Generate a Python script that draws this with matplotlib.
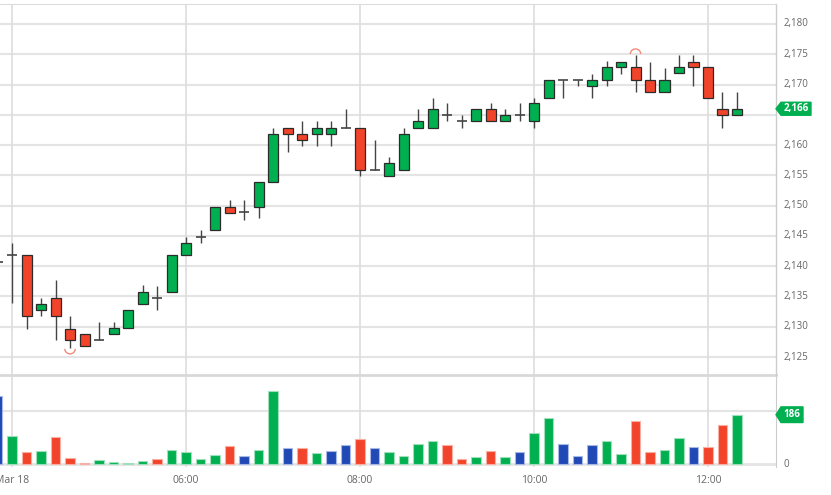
import matplotlib
matplotlib.use("Agg")
import matplotlib.pyplot as plt
from matplotlib.patches import Polygon, Arc
from matplotlib.transforms import blended_transform_factory
import numpy as np
import pandas as pd

plt.rcParams["font.family"] = ["Open Sans", "DejaVu Sans"]

# 10-minute candles, Mar 18, 03:50 .. 12:20
times = pd.date_range("2024-03-18 03:50", periods=52, freq="10min")

opens = [2140.7, 2141.8, 2141.8, 2132.8, 2134.8, 2129.7, 2128.8, 2127.8, 2128.8, 2129.8,
         2133.8, 2134.8, 2135.8, 2141.8, 2144.8, 2145.9, 2149.8, 2148.9, 2149.8, 2153.9,
         2162.9, 2161.9, 2161.9, 2161.9, 2162.9, 2162.9, 2155.9, 2154.9, 2155.9, 2162.9,
         2162.9, 2165.0, 2164.0, 2163.9, 2166.0, 2163.9, 2165.0, 2164.0, 2167.7, 2170.8,
         2170.8, 2169.8, 2170.8, 2172.85, 2172.85, 2170.8, 2168.8, 2171.85, 2173.8, 2172.85,
         2166.0, 2164.9]
highs = [2141.2, 2143.9, 2141.8, 2134.8, 2137.8, 2131.8, 2128.8, 2130.8, 2130.8, 2132.8,
         2136.9, 2136.8, 2141.8, 2144.9, 2145.9, 2149.8, 2150.9, 2150.9, 2153.9, 2162.9,
         2162.9, 2163.9, 2163.9, 2163.9, 2165.9, 2162.9, 2160.9, 2158.0, 2162.9, 2165.9,
         2167.7, 2166.9, 2165.0, 2166.0, 2166.9, 2165.9, 2166.9, 2167.7, 2170.8, 2170.8,
         2170.8, 2171.8, 2173.9, 2173.8, 2174.9, 2173.8, 2172.8, 2174.9, 2174.9, 2172.85,
         2168.8, 2168.8]
lows = [2140.2, 2133.9, 2129.7, 2131.8, 2127.8, 2126.5, 2126.8, 2127.8, 2128.8, 2129.8,
        2133.8, 2132.8, 2135.8, 2141.8, 2143.9, 2145.9, 2148.8, 2147.7, 2147.9, 2153.9,
        2158.9, 2159.9, 2159.9, 2159.9, 2162.9, 2154.9, 2155.9, 2154.9, 2155.9, 2162.9,
        2162.9, 2164.0, 2162.9, 2163.9, 2163.9, 2163.9, 2164.0, 2162.9, 2167.7, 2167.8,
        2169.8, 2167.8, 2169.8, 2171.8, 2168.8, 2168.8, 2168.8, 2171.85, 2169.8, 2167.8,
        2162.9, 2164.9]
closes = [2140.7, 2141.8, 2131.8, 2133.8, 2131.8, 2127.8, 2126.8, 2127.8, 2129.8, 2132.8,
          2135.8, 2134.8, 2141.8, 2143.9, 2144.8, 2149.8, 2148.8, 2148.9, 2153.9, 2161.9,
          2161.9, 2160.9, 2162.9, 2162.9, 2162.9, 2155.9, 2155.9, 2157.0, 2161.9, 2163.9,
          2165.9, 2165.0, 2164.0, 2166.0, 2163.9, 2165.0, 2165.0, 2166.9, 2170.8, 2170.8,
          2170.8, 2170.8, 2172.85, 2173.8, 2170.8, 2168.8, 2170.8, 2172.85, 2172.85, 2167.8,
          2164.9, 2166.0]
volumes = [257, 107, 45, 49, 101, 23, 5, 15, 6, 3,
           10, 18, 54, 44, 21, 35, 69, 31, 52, 277,
           62, 59, 43, 50, 73, 93, 62, 45, 30, 75,
           87, 70, 18, 25, 49, 26, 46, 118, 175, 74,
           30, 73, 88, 39, 163, 44, 53, 97, 65, 63,
           146, 186]
vol_dirs = ["b", "g", "r", "g", "r", "r", "r", "g", "g", "g",
            "g", "r", "g", "g", "g", "g", "r", "b", "g", "g",
            "b", "r", "g", "b", "b", "r", "b", "g", "g", "g",
            "g", "r", "r", "g", "r", "g", "b", "g", "g", "b",
            "b", "b", "g", "g", "r", "r", "g", "g", "b", "r",
            "r", "g"]
price_ticks = [2125, 2130, 2135, 2140, 2145, 2150, 2155, 2160, 2165, 2170, 2175, 2180]
time_ticks = ["04:00", "06:00", "08:00", "10:00", "12:00"]
time_labels = ["Mar 18", "06:00", "08:00", "10:00", "12:00"]
last_price = 2166
last_volume = 186

GREEN = "#00b050"
RED = "#f2442a"
BLUE = "#2049b5"
EDGE_LIGHT = {"g": "#9fe0bb", "r": "#f9b0a2", "b": "#a8b8e6"}
FILL = {"g": GREEN, "r": RED, "b": BLUE}
GRID = "#e4e4e4"
TXT = "#666666"

o = np.array(opens)
h = np.array(highs)
l = np.array(lows)
c = np.array(closes)
x = np.arange(len(times)) - 1  # candle at 04:00 -> 0
tick_pos = [x[list(times.strftime("%H:%M")).index(t)] for t in time_ticks]

fig = plt.figure(figsize=(8.31, 4.95), dpi=100)
W, H = 831, 495
ax = fig.add_axes([0, (H - 375) / H, 776 / W, 371 / H])
axv = fig.add_axes([0, (H - 467) / H, 776 / W, 90 / H])

xlim = (-0.83, 52.69)

# price panel
for p in price_ticks:
    ax.axhline(p, color=GRID, lw=1.5, zorder=0)
for t in tick_pos:
    ax.axvline(t, color="#dddddd", lw=1.2, zorder=0)

ax.vlines(x, l, h, color="#444444", lw=1, zorder=2)
up = c > o
dn = c < o
eq = c == o
bw = 0.69
ax.bar(x[up], (c - o)[up], bottom=o[up], width=bw, color=GREEN,
       edgecolor="#2b2b2b", lw=0.9, zorder=3)
ax.bar(x[dn], (o - c)[dn], bottom=c[dn], width=bw, color=RED,
       edgecolor="#2b2b2b", lw=0.9, zorder=3)
ax.hlines(o[eq], x[eq] - bw / 2, x[eq] + bw / 2, color="#444444", lw=1.2, zorder=3)

# high / low markers
ih = int(np.argmax(h))
il = int(np.argmin(l))
ax.add_patch(Arc((x[ih], h[ih] + 0.15), 0.72, 1.65, theta1=0, theta2=180,
                 color="#f28a7a", lw=1, zorder=4))
ax.add_patch(Arc((x[il], l[il] - 0.15), 0.72, 1.65, theta1=180, theta2=360,
                 color="#f28a7a", lw=1, zorder=4))

ax.set_xlim(*xlim)
ax.set_ylim(2122.03, 2183.3)
ax.set_xticks([])
ax.set_yticks([])
for s in ["left", "bottom"]:
    ax.spines[s].set_visible(False)
ax.spines["top"].set_color("#dddddd")
ax.spines["right"].set_color("#cccccc")
ax.spines["right"].set_linewidth(1)
ax.axhline(2122.03, color="#d8d8d8", lw=2, zorder=1, clip_on=False)

tr = blended_transform_factory(fig.transFigure, ax.transData)
for p in price_ticks:
    if abs(p - last_price) < 2:
        continue
    fig.text(784 / W, p, f"{p:,}", transform=tr, fontsize=7, color=TXT,
             va="center", ha="left")

# last price tag
hh = 6.5 / 6.055
tag = Polygon([(776 / W, last_price), (781 / W, last_price + hh), (811 / W, last_price + hh),
               (811 / W, last_price - hh), (781 / W, last_price - hh)],
              closed=True, transform=tr, color=GREEN, clip_on=False)
fig.add_artist(tag)
fig.text(796 / W, last_price, f"{last_price:,}", transform=tr, fontsize=7,
         color="white", fontweight="bold", va="center", ha="center")

# volume panel
axv.axhline(0, color=GRID, lw=2, zorder=0)
axv.axhline(200, color=GRID, lw=1.5, zorder=0)
for t in tick_pos:
    axv.axvline(t, color="#dddddd", lw=1.2, zorder=0)
axv.bar(x, volumes, width=0.68, color=[FILL[d] for d in vol_dirs],
        edgecolor=[EDGE_LIGHT[d] for d in vol_dirs], lw=0.8, zorder=2)
axv.set_xlim(*xlim)
axv.set_ylim(-11, 328)
axv.set_yticks([])
axv.set_xticks(tick_pos)
axv.set_xticklabels(time_labels, fontsize=7.5, color=TXT)
axv.tick_params(axis="x", length=0, pad=6)
for s in ["left", "bottom", "top"]:
    axv.spines[s].set_visible(False)
axv.spines["right"].set_color("#cccccc")

trv = blended_transform_factory(fig.transFigure, axv.transData)
fig.text(784 / W, 0, "0", transform=trv, fontsize=7, color=TXT, va="center", ha="left")
hv = 7.8 / 0.265
vtag = Polygon([(776 / W, last_volume), (781 / W, last_volume + hv), (803 / W, last_volume + hv),
                (803 / W, last_volume - hv), (781 / W, last_volume - hv)],
               closed=True, transform=trv, color=GREEN, clip_on=False)
fig.add_artist(vtag)
fig.text(792 / W, last_volume, str(last_volume), transform=trv, fontsize=7,
         color="white", fontweight="bold", va="center", ha="center")

fig.savefig("out.png", dpi=100, facecolor="white")
